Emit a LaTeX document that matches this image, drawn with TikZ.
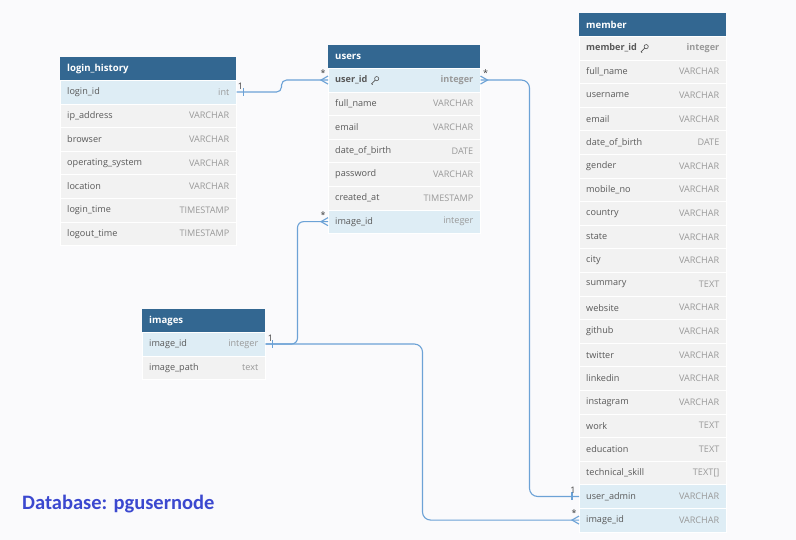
\documentclass[tikz,border=0pt]{standalone}
\usepackage{fontspec}
\setmainfont{Open Sans}
\newfontfamily\captionfont{Carlito}
\usepackage{xcolor}
\usepackage{tikz}
\usetikzlibrary{calc,backgrounds}

\definecolor{headblue}{HTML}{336791}
\definecolor{rowgray}{HTML}{F2F2F2}
\definecolor{rowblue}{HTML}{DEEDF5}
\definecolor{namegray}{HTML}{585858}
\definecolor{typegray}{HTML}{999999}
\definecolor{linkblue}{HTML}{6CA2D6}
\definecolor{dbblue}{HTML}{3B48CF}
\definecolor{pagebg}{HTML}{FAFAFC}

\begin{document}
\begin{tikzpicture}[x=1pt,y=-1pt]
        % Define the styles for tables, fields and relations
        \tikzstyle{tablehead}=[anchor=north west, fill=headblue, minimum height=23pt, inner sep=0pt];
        \tikzstyle{headname}=[anchor=west, inner sep=0pt, text=white, font=\bfseries\fontsize{9.6}{11}\selectfont];
        \tikzstyle{tablerow}=[anchor=north west, draw=white, line width=0.5pt, minimum height=23.6pt, inner sep=0pt];
        \tikzstyle{fieldname}=[anchor=west, inner sep=0pt, text=namegray, font=\fontsize{9.1}{11}\selectfont];
        \tikzstyle{fieldtype}=[anchor=east, inner sep=0pt, text=typegray, font=\fontsize{9.1}{11}\selectfont];
        \tikzstyle{relation}=[draw=linkblue, line width=1.1pt];
        \tikzstyle{cardlabel}=[inner sep=0pt, text=black!75, font=\fontsize{9}{10}\selectfont];

        % Page background
        \fill[pagebg] (0,0) rectangle (796,540);
        \useasboundingbox (0,0) rectangle (796,540);

        % login_history table
        \node[tablehead, minimum width=176pt] (lh) at (60,57) {};
        \node[headname] (lh-h) at ([xshift=7pt]lh.west) {login\_history};
        \foreach \f/\t/\c [count=\i] in {login\_id/int/rowblue, ip\_address/VARCHAR/rowgray,
            browser/VARCHAR/rowgray, operating\_system/VARCHAR/rowgray, location/VARCHAR/rowgray,
            login\_time/TIMESTAMP/rowgray, logout\_time/TIMESTAMP/rowgray} {
            \node[tablerow, fill=\c, minimum width=176pt] (lh-\i) at (60,56.4+\i*23.6) {};
            \node[fieldname] (lh-\i-n) at ([xshift=7pt]lh-\i.west) {\f};
            \node[fieldtype] (lh-\i-t) at ([xshift=-7pt]lh-\i.east) {\t};
        }

        % users table
        \node[tablehead, minimum width=152pt] (us) at (328,45) {};
        \node[headname] (us-h) at ([xshift=7pt]us.west) {users};
        \foreach \f/\t/\c [count=\i] in {{\bfseries user\_id}/{\bfseries integer}/rowblue, full\_name/VARCHAR/rowgray,
            email/VARCHAR/rowgray, date\_of\_birth/DATE/rowgray, password/VARCHAR/rowgray,
            created\_at/TIMESTAMP/rowgray, image\_id/integer/rowblue} {
            \node[tablerow, fill=\c, minimum width=152pt] (us-\i) at (328,44.4+\i*23.6) {};
            \node[fieldname] (us-\i-n) at ([xshift=7pt]us-\i.west) {\f};
            \node[fieldtype] (us-\i-t) at ([xshift=-7pt]us-\i.east) {\t};
        }

        % images table
        \node[tablehead, minimum width=123pt] (im) at (142,309) {};
        \node[headname] (im-h) at ([xshift=7pt]im.west) {images};
        \foreach \f/\t/\c [count=\i] in {image\_id/integer/rowblue, image\_path/text/rowgray} {
            \node[tablerow, fill=\c, minimum width=123pt] (im-\i) at (142,308.4+\i*23.6) {};
            \node[fieldname] (im-\i-n) at ([xshift=7pt]im-\i.west) {\f};
            \node[fieldtype] (im-\i-t) at ([xshift=-7pt]im-\i.east) {\t};
        }

        % member table
        \node[tablehead, minimum width=147pt] (me) at (579,13) {};
        \node[headname] (me-h) at ([xshift=7pt]me.west) {member};
        \foreach \f/\t/\c [count=\i] in {{\bfseries member\_id}/{\bfseries integer}/rowgray, full\_name/VARCHAR/rowgray,
            username/VARCHAR/rowgray, email/VARCHAR/rowgray, date\_of\_birth/DATE/rowgray,
            gender/VARCHAR/rowgray, mobile\_no/VARCHAR/rowgray, country/VARCHAR/rowgray,
            state/VARCHAR/rowgray, city/VARCHAR/rowgray, summary/TEXT/rowgray,
            website/VARCHAR/rowgray, github/VARCHAR/rowgray, twitter/VARCHAR/rowgray,
            linkedin/VARCHAR/rowgray, instagram/VARCHAR/rowgray, work/TEXT/rowgray,
            education/TEXT/rowgray, technical\_skill/{TEXT[]}/rowgray,
            user\_admin/VARCHAR/rowblue, image\_id/VARCHAR/rowblue} {
            \node[tablerow, fill=\c, minimum width=147pt] (me-\i) at (579,12.4+\i*23.6) {};
            \node[fieldname] (me-\i-n) at ([xshift=7pt]me-\i.west) {\f};
            \node[fieldtype] (me-\i-t) at ([xshift=-7pt]me-\i.east) {\t};
        }

        % Key icons of the primary keys
        \foreach \k in {us-1-n, me-1-n} {
            \draw[namegray, line width=0.6pt] ([xshift=9pt,yshift=1.4pt]\k.east) circle (2.1pt);
            \draw[namegray, line width=0.6pt] ([xshift=7.5pt,yshift=-0.1pt]\k.east) -- ++(-3.6,3.6) -- ++(1,1);
        }

        % Relations between the tables
        \draw[relation, rounded corners=5pt] (lh-1.east) -- ++(45,0) |- (us-1.west);
        \draw[relation, rounded corners=8pt] (us-1.east) -- ++(49,0) |- (me-20.west);
        \draw[relation, rounded corners=6pt] (im-1.east) -- ++(32,0) |- (us-7.west);
        \draw[relation, rounded corners=8pt] (im-1.east) -- ++(157,0) |- (me-21.west);

        % Bars at the one ends
        \draw[relation] ([xshift=7pt]lh-1.east) ++(0,-4) -- ++(0,8);
        \draw[relation] ([xshift=7pt]im-1.east) ++(0,-4) -- ++(0,8);
        \draw[relation] ([xshift=-7pt]me-20.west) ++(0,-4) -- ++(0,8);

        % Crow's feet at the many ends
        \draw[relation] ([yshift=4pt]us-1.west) -- ([xshift=-7pt]us-1.west) -- ([yshift=-4pt]us-1.west);
        \draw[relation] ([yshift=4pt]us-1.east) -- ([xshift=7pt]us-1.east) -- ([yshift=-4pt]us-1.east);
        \draw[relation] ([yshift=4pt]us-7.west) -- ([xshift=-7pt]us-7.west) -- ([yshift=-4pt]us-7.west);
        \draw[relation] ([yshift=4pt]me-21.west) -- ([xshift=-7pt]me-21.west) -- ([yshift=-4pt]me-21.west);

        % Cardinality labels
        \node[cardlabel] (c-lh) at ([xshift=4pt,yshift=6pt]lh-1.east) {1};
        \node[cardlabel] (c-us1) at ([xshift=-5pt,yshift=7pt]us-1.west) {*};
        \node[cardlabel] (c-us2) at ([xshift=5pt,yshift=7pt]us-1.east) {*};
        \node[cardlabel] (c-us7) at ([xshift=-5pt,yshift=7pt]us-7.west) {*};
        \node[cardlabel] (c-im) at ([xshift=5pt,yshift=6pt]im-1.east) {1};
        \node[cardlabel] (c-me20) at ([xshift=-6pt,yshift=6pt]me-20.west) {1};
        \node[cardlabel] (c-me21) at ([xshift=-5pt,yshift=7pt]me-21.west) {*};

        % Database name
        \node[anchor=west, inner sep=0pt, text=dbblue, font=\captionfont\bfseries\fontsize{20.5}{24}\selectfont] (dbname) at (22,504) {Database: pgusernode};

    \end{tikzpicture}
\end{document}
